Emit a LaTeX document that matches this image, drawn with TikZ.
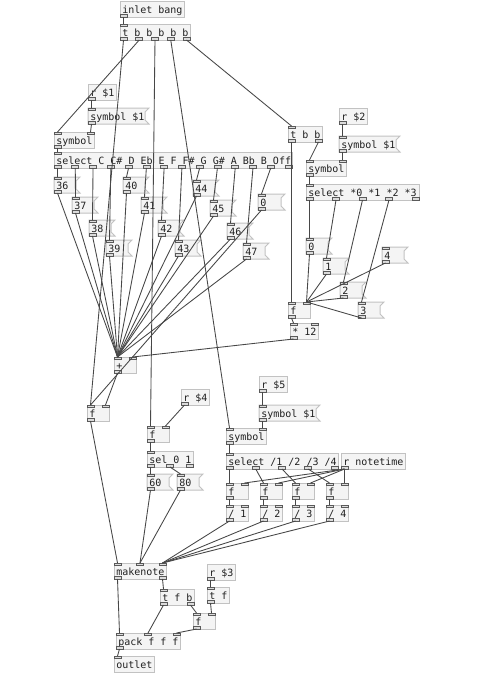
\documentclass[tikz,border=0pt]{standalone}
\usepackage{fontspec}
\newfontfamily\pdfont{DejaVu Sans Mono}
\definecolor{boxline}{HTML}{C2C2C2}
\definecolor{boxfill}{HTML}{F4F4F4}
\definecolor{portline}{HTML}{5A5A5A}
\definecolor{portfill}{HTML}{DCDCDC}
\definecolor{wirecol}{HTML}{474747}
\definecolor{txtcol}{HTML}{202020}
\tikzset{
  pdframe/.style={draw=boxline, fill=boxfill, line width=0.75pt},
  pdport/.style={draw=portline, fill=portfill, line width=0.45pt},
  pdwire/.style={draw=wirecol, line width=0.65pt},
  pdtext/.style={anchor=base west, inner sep=0pt, text=txtcol, font=\pdfont\fontsize{7.5}{9}\selectfont},
}
\newcommand\pdports[7]{% name x y w h nin nout
  \ifnum#6>0
    \foreach \k in {1,...,#6}{%
      \ifnum#6=1 \edef\px{#2}\else\pgfmathsetmacro\px{#2+(#4-7)*(\k-1)/(#6-1)}\fi
      \pgfmathtruncatemacro\kk{\k-1}%
      \draw[pdport] (\px,#3) rectangle ++(7,2.5);
      \coordinate (#1-i\kk) at (\px+3.5,#3);
    }%
  \fi
  \ifnum#7>0
    \foreach \k in {1,...,#7}{%
      \ifnum#7=1 \edef\px{#2}\else\pgfmathsetmacro\px{#2+(#4-7)*(\k-1)/(#7-1)}\fi
      \pgfmathtruncatemacro\kk{\k-1}%
      \draw[pdport] (\px,#3+#5-2.5) rectangle ++(7,2.5);
      \coordinate (#1-o\kk) at (\px+3.5,#3+#5);
    }%
  \fi
}
\newcommand\pdobj[7]{% name x y w text nin nout
  \draw[pdframe] (#2,#3) rectangle ++(#4,16);
  \node[pdtext] (#1) at (#2+2,#3+12.3) {#5};
  \pdports{#1}{#2}{#3}{#4}{16}{#6}{#7}%
}
\newcommand\pdmsg[5]{% name x y w text
  \draw[pdframe] (#2,#3) -- ++(#4,0) -- ++(-4,4) -- ++(0,8) -- ++(4,4) -- ++(-#4,0) -- cycle;
  \node[pdtext] (#1) at (#2+2,#3+12.3) {#5};
  \pdports{#1}{#2}{#3}{#4}{16}{1}{1}%
}
\begin{document}
\begin{tikzpicture}[x=0.75pt,y=-0.75pt]
\fill[white] (0,0) rectangle (489,678);
\useasboundingbox (0,0) rectangle (489,678);
% ---- top
\pdobj{inb}{120}{1}{64}{inlet bang}{0}{1}
\pdobj{tb}{120}{24}{70}{t b b b b b}{1}{5}
% ---- note section
\pdobj{ra}{88}{84}{28}{r \$1}{0}{1}
\pdmsg{sa}{88}{108}{61}{symbol \$1}
\pdobj{syma}{54}{132}{40}{symbol}{2}{1}
\pdobj{sela}{54}{152}{238}{select C C\# D Eb E F F\# G G\# A Bb B Off}{1}{14}
\pdmsg{n36}{54}{177}{26}{36}
\pdmsg{n37}{72}{197}{26}{37}
\pdmsg{n38}{89}{220}{26}{38}
\pdmsg{n39}{106}{240}{26}{39}
\pdmsg{n40}{123}{177}{26}{40}
\pdmsg{n41}{141}{197}{26}{41}
\pdmsg{n42}{158}{220}{26}{42}
\pdmsg{n43}{175}{240}{26}{43}
\pdmsg{n44}{193}{180}{26}{44}
\pdmsg{n45}{210}{200}{26}{45}
\pdmsg{n46}{227}{223}{26}{46}
\pdmsg{n47}{243}{243}{26}{47}
\pdmsg{noff}{258}{194}{27}{0}
% ---- octave section
\pdobj{tbb}{288}{126}{34}{t b b}{1}{2}
\pdobj{rb}{339}{108}{28}{r \$2}{0}{1}
\pdmsg{sb}{339}{136}{61}{symbol \$1}
\pdobj{symb}{306}{160}{40}{symbol}{2}{1}
\pdobj{selb}{306}{184}{113}{select *0 *1 *2 *3}{1}{5}
\pdmsg{q0}{306}{238}{26}{0}
\pdmsg{q1}{323}{258}{26}{1}
\pdmsg{q2}{340}{282}{26}{2}
\pdmsg{q3}{358}{302}{26}{3}
\pdmsg{q4}{382}{247}{26}{4}
\pdobj{fr}{288}{302}{22}{f}{2}{1}
\pdobj{mul}{290}{323}{28}{* 12}{2}{1}
\pdobj{plus}{114}{357}{22}{+}{2}{1}
\pdobj{fl}{87}{405}{22}{f}{2}{1}
% ---- velocity section
\pdobj{rc}{181}{389}{28}{r \$4}{0}{1}
\pdobj{fm}{147}{426}{22}{f}{2}{1}
\pdobj{selc}{147}{451}{46}{sel 0 1}{1}{3}
\pdmsg{v60}{147}{474}{26}{60}
\pdmsg{v80}{177}{474}{26}{80}
% ---- duration section
\pdobj{rd}{259}{376}{28}{r \$5}{0}{1}
\pdmsg{sd}{259}{405}{61}{symbol \$1}
\pdobj{symd}{226}{428}{40}{symbol}{2}{1}
\pdobj{seld}{226}{453}{112}{select /1 /2 /3 /4}{1}{5}
\pdobj{rnt}{341}{453}{64}{r notetime}{0}{1}
\pdobj{fda}{226}{483}{22}{f}{2}{1}
\pdobj{fdb}{260}{483}{22}{f}{2}{1}
\pdobj{fdc}{292}{483}{22}{f}{2}{1}
\pdobj{fdd}{326}{483}{22}{f}{2}{1}
\pdobj{dva}{226}{505}{22}{/ 1}{2}{1}
\pdobj{dvb}{260}{505}{22}{/ 2}{2}{1}
\pdobj{dvc}{292}{505}{22}{/ 3}{2}{1}
\pdobj{dvd}{326}{505}{22}{/ 4}{2}{1}
% ---- output section
\pdobj{mk}{114}{563}{52}{makenote}{3}{2}
\pdobj{re}{207}{564}{28}{r \$3}{0}{1}
\pdobj{tf}{207}{587}{22}{t f}{1}{1}
\pdobj{tfb}{160}{589}{34}{t f b}{1}{2}
\pdobj{fb}{193}{613}{22}{f}{2}{1}
\pdobj{pk}{116}{633}{64}{pack f f f}{3}{1}
\pdobj{outl}{114}{656}{40}{outlet}{1}{0}
% ---- wires
\draw[pdwire] (inb-o0) -- (tb-i0);
\draw[pdwire] (tb-o0) -- (fl-i0);
\draw[pdwire] (tb-o1) -- (syma-i0);
\draw[pdwire] (tb-o2) -- (fm-i0);
\draw[pdwire] (tb-o3) -- (symd-i0);
\draw[pdwire] (tb-o4) -- (tbb-i0);
\draw[pdwire] (ra-o0) -- (sa-i0);
\draw[pdwire] (sa-o0) -- (syma-i1);
\draw[pdwire] (syma-o0) -- (sela-i0);
\foreach \k/\n in {0/n36,1/n37,2/n38,3/n39,4/n40,5/n41,6/n42,7/n43,8/n44,9/n45,10/n46,11/n47,12/noff}
  \draw[pdwire] (sela-o\k) -- (\n-i0);
\foreach \n in {n36,n37,n38,n39,n40,n41,n42,n43,n44,n45,n46,n47}
  \draw[pdwire] (\n-o0) -- (plus-i0);
\draw[pdwire] (noff-o0) -- (fl-i0);
\draw[pdwire] (tbb-o0) -- (fr-i0);
\draw[pdwire] (tbb-o1) -- (symb-i0);
\draw[pdwire] (rb-o0) -- (sb-i0);
\draw[pdwire] (sb-o0) -- (symb-i1);
\draw[pdwire] (symb-o0) -- (selb-i0);
\foreach \k/\n in {0/q0,1/q1,2/q2,3/q3}
  \draw[pdwire] (selb-o\k) -- (\n-i0);
\foreach \n in {q0,q1,q2,q3,q4}
  \draw[pdwire] (\n-o0) -- (fr-i1);
\draw[pdwire] (fr-o0) -- (mul-i0);
\draw[pdwire] (mul-o0) -- (plus-i1);
\draw[pdwire] (plus-o0) -- (fl-i1);
\draw[pdwire] (fl-o0) -- (mk-i0);
\draw[pdwire] (rc-o0) -- (fm-i1);
\draw[pdwire] (fm-o0) -- (selc-i0);
\draw[pdwire] (selc-o0) -- (v60-i0);
\draw[pdwire] (selc-o1) -- (v80-i0);
\draw[pdwire] (v60-o0) -- (mk-i1);
\draw[pdwire] (v80-o0) -- (mk-i1);
\draw[pdwire] (rd-o0) -- (sd-i0);
\draw[pdwire] (sd-o0) -- (symd-i1);
\draw[pdwire] (symd-o0) -- (seld-i0);
\foreach \k/\n in {0/fda,1/fdb,2/fdc,3/fdd}{
  \draw[pdwire] (seld-o\k) -- (\n-i0);
  \draw[pdwire] (rnt-o0) -- (\n-i1);
}
\foreach \a/\b in {fda/dva,fdb/dvb,fdc/dvc,fdd/dvd}{
  \draw[pdwire] (\a-o0) -- (\b-i0);
  \draw[pdwire] (\b-o0) -- (mk-i2);
}
\draw[pdwire] (mk-o0) -- (pk-i0);
\draw[pdwire] (mk-o1) -- (tfb-i0);
\draw[pdwire] (tfb-o0) -- (pk-i1);
\draw[pdwire] (tfb-o1) -- (fb-i0);
\draw[pdwire] (re-o0) -- (tf-i0);
\draw[pdwire] (tf-o0) -- (fb-i1);
\draw[pdwire] (fb-o0) -- (pk-i2);
\draw[pdwire] (pk-o0) -- (outl-i0);
\end{tikzpicture}
\end{document}
